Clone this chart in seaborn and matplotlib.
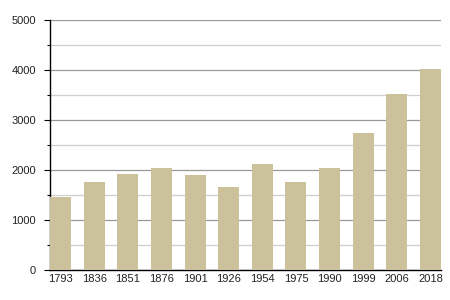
import matplotlib
matplotlib.use("Agg")
import matplotlib.pyplot as plt
from matplotlib.ticker import MultipleLocator
import seaborn as sns
import pandas as pd

years = ["1793", "1836", "1851", "1876", "1901", "1926", "1954", "1975", "1990", "1999", "2006", "2018"]
population = [1460, 1760, 1925, 2040, 1900, 1660, 2125, 1760, 2045, 2740, 3520, 4015]

df = pd.DataFrame({"year": years, "pop": population})

sns.set_style("white")
plt.rcParams["font.family"] = ["Liberation Sans", "DejaVu Sans"]

fig = plt.figure(figsize=(4.5, 3), dpi=100)
ax = fig.add_axes([50 / 450, 30 / 300, 391 / 450, 250 / 300])

sns.barplot(data=df, x="year", y="pop", color="#CBC29C", saturation=1,
            width=0.625, ax=ax, zorder=3, edgecolor="none")

ax.set_xlim(-0.3125, 11.3125)
ax.set_ylim(0, 5000)
ax.yaxis.set_major_locator(MultipleLocator(1000))
ax.yaxis.set_minor_locator(MultipleLocator(500))
ax.grid(axis="y", which="major", color="#9a9a9a", linewidth=0.9, zorder=0)
ax.grid(axis="y", which="minor", color="#cfcfcf", linewidth=0.9, zorder=0)
ax.set_axisbelow(True)

for s in ["top", "right"]:
    ax.spines[s].set_visible(False)
ax.spines["left"].set_color("black")
ax.spines["bottom"].set_color("black")
ax.spines["left"].set_linewidth(1.0)
ax.spines["bottom"].set_linewidth(1.0)

ax.tick_params(axis="y", which="major", length=4, width=0.8, color="black",
               labelsize=8, pad=6, left=True)
ax.tick_params(axis="y", which="minor", length=2, width=0.8, color="black", left=True)
ax.tick_params(axis="x", length=0, labelsize=8, pad=3)
for lbl in ax.get_xticklabels() + ax.get_yticklabels():
    lbl.set_color("#222222")

ax.set_xlabel("")
ax.set_ylabel("")

fig.savefig("out.png", dpi=100)
